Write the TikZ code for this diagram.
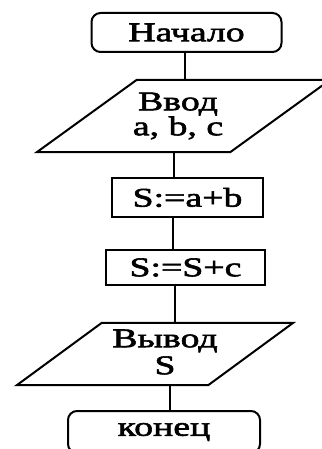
\documentclass[tikz,border=0pt]{standalone}
\usepackage{fontspec}
\newfontfamily\wide[FakeStretch=1.4,FakeBold=2.2]{Liberation Serif}
\begin{document}
\begin{tikzpicture}[x=1pt,y=-1pt,
  txt/.style={inner sep=0pt, align=center, font=\wide\fontsize{27}{22}\selectfont},
  term/.style={draw, line width=2pt, rounded corners=9pt},
  proc/.style={draw, line width=2pt},
  io/.style={},
  conn/.style={line width=2pt},
  par/.style={line width=2pt, line join=miter}]
\useasboundingbox[fill=white] (0,0) rectangle (321,449);
\node[txt, term, minimum width=190pt, minimum height=39pt] (start) at (186.5,32.5) {Начало};
\node[io, minimum width=293pt, minimum height=72pt] (in1) at (183.5,116) {};
\node[txt] (in1t) at (178,116) {Ввод\\a, b, c};
\node[txt, proc, minimum width=151pt, minimum height=39pt] (r1) at (187.5,197.5) {S:=a+b};
\node[txt, proc, minimum width=159pt, minimum height=35pt] (r2) at (185.5,267.5) {S:=S+c};
\node[io, minimum width=276pt, minimum height=62pt] (out1) at (155,354) {};
\node[txt, font=\wide\fontsize{27}{27}\selectfont] (out1t) at (165,352) {Вывод\\S};
\node[txt, term, minimum width=192pt, minimum height=42pt] (end) at (164,432) {конец};
\draw[par] ([xshift=100pt]in1.north west) -- (in1.north east) -- ([xshift=-100pt]in1.south east) -- (in1.south west) -- cycle;
\draw[par] ([xshift=85pt]out1.north west) -- (out1.north east) -- ([xshift=-85pt]out1.south east) -- (out1.south west) -- cycle;
\draw[conn] (start.south -| 185,0) -- (in1.north -| 185,0);
\draw[conn] (in1.south -| 174,0) -- (r1.north -| 174,0);
\draw[conn] (r1.south -| 173,0) -- (r2.north -| 173,0);
\draw[conn] (r2.south -| 175,0) -- (out1.north -| 175,0);
\draw[conn] (out1.south -| 170,0) -- (end.north -| 170,0);
\end{tikzpicture}
\end{document}
